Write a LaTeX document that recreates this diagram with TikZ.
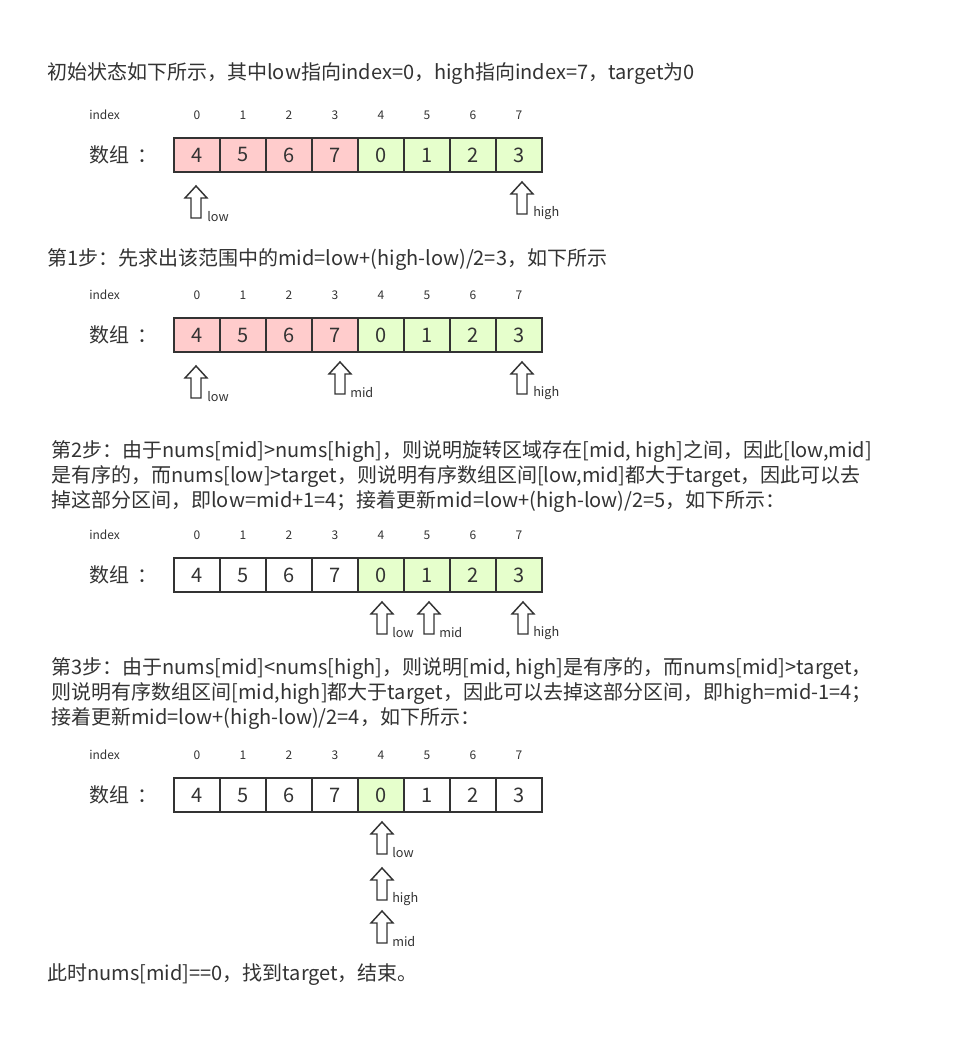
\documentclass[tikz,border=0pt]{standalone}
\usepackage{fontspec}
\setmainfont{Noto Sans CJK SC}
\begin{document}
\begin{tikzpicture}[x=0.75pt,y=-0.75pt,
  txt/.style={anchor=west,inner sep=0pt,text=textc,font=\fontsize{15pt}{17pt}\selectfont},
  idx/.style={inner sep=0pt,text=textc,font=\fontsize{9pt}{10pt}\selectfont},
  lbl/.style={anchor=west,inner sep=0pt,text=textc,font=\fontsize{9.5pt}{10pt}\selectfont},
  cell/.style={draw=cellline,line width=1.5pt,minimum width=34.5pt,minimum height=25.5pt,inner sep=0pt,text=textc,font=\fontsize{15pt}{17pt}\selectfont},
  pk/.style={cell,fill=pinkc},
  gn/.style={cell,fill=greenc},
  wh/.style={cell,fill=white},
  uparr/.pic={\draw[draw=arrc,line width=1.1pt,fill=white,line join=miter]
     (0,0) -- (11,12) -- (5,12) -- (5,32) -- (-5,32) -- (-5,12) -- (-11,12) -- cycle;}
]
\definecolor{textc}{HTML}{333333}
\definecolor{cellline}{HTML}{333333}
\definecolor{arrc}{HTML}{333333}
\definecolor{pinkc}{HTML}{FFCCCC}
\definecolor{greenc}{HTML}{E6FFCC}
\useasboundingbox (0,0) rectangle (960,1059);
\fill[white] (0,0) rectangle (960,1059);

% ---------- Texts ----------
\node[txt] (t0) at (47,74) {初始状态如下所示，其中low指向index=0，high指向index=7，target为0};
\node[txt] (t1) at (47,260) {第1步：先求出该范围中的mid=low+(high-low)/2=3，如下所示};
\node[txt] (t2a) at (51,452) {第2步：由于nums[mid]>nums[high]，则说明旋转区域存在[mid, high]之间，因此[low,mid]};
\node[txt] (t2b) at (51,477) {是有序的，而nums[low]>target，则说明有序数组区间[low,mid]都大于target，因此可以去};
\node[txt] (t2c) at (51,502) {掉这部分区间，即low=mid+1=4；接着更新mid=low+(high-low)/2=5，如下所示：};
\node[txt] (t3a) at (51,669) {第3步：由于nums[mid]<nums[high]，则说明[mid, high]是有序的，而nums[mid]>target，};
\node[txt] (t3b) at (51,694) {则说明有序数组区间[mid,high]都大于target，因此可以去掉这部分区间，即high=mid-1=4；};
\node[txt] (t3c) at (51,719) {接着更新mid=low+(high-low)/2=4，如下所示：};
\node[txt] (t4) at (47,975) {此时nums[mid]==0，找到target，结束。};

% ---------- Array labels and indices ----------
\foreach \ay/\iy [count=\k] in {155/115,335/295,575/535,795/755}{
  \node[idx,anchor=west] (ix\k) at (89,\iy) {index};
  \node[txt] (arr\k) at (89,\ay) {数组\hspace{6pt}：};
  \foreach \i in {0,...,7}{
    \pgfmathsetmacro{\cx}{197+46*\i}
    \node[idx] (n\k-\i) at (\cx,\iy) {\i};
  }
}
% ---------- Cells ----------
\foreach \v/\st [count=\i from 0] in {4/pk,5/pk,6/pk,7/pk,0/gn,1/gn,2/gn,3/gn}{
  \pgfmathsetmacro{\cx}{197+46*\i}
  \node[\st] (c1-\i) at (\cx,155) {\v};
  \node[\st] (c2-\i) at (\cx,335) {\v};
}
\foreach \v/\st [count=\i from 0] in {4/wh,5/wh,6/wh,7/wh,0/gn,1/gn,2/gn,3/gn}{
  \pgfmathsetmacro{\cx}{197+46*\i}
  \node[\st] (c3-\i) at (\cx,575) {\v};
}
\foreach \v/\st [count=\i from 0] in {4/wh,5/wh,6/wh,7/wh,0/gn,1/wh,2/wh,3/wh}{
  \pgfmathsetmacro{\cx}{197+46*\i}
  \node[\st] (c4-\i) at (\cx,795) {\v};
}

% ---------- Pointers ----------
% array 1
\pic at (196,186) {uparr};  \node[lbl] (l1low) at (207,217) {low};
\pic at (522,182) {uparr};  \node[lbl] (l1high) at (533,213) {high};
% array 2
\pic at (196,366) {uparr};  \node[lbl] (l2low) at (207,397) {low};
\pic at (340,362) {uparr};  \node[lbl] (l2mid) at (350,393) {mid};
\pic at (522,362) {uparr};  \node[lbl] (l2high) at (533,393) {high};
% array 3
\pic at (382,602) {uparr};  \node[lbl] (l3low) at (392,633) {low};
\pic at (429,602) {uparr};  \node[lbl] (l3mid) at (439,633) {mid};
\pic at (523,602) {uparr};  \node[lbl] (l3high) at (533,633) {high};
% array 4
\pic at (382,822) {uparr};  \node[lbl] (l4low) at (392,853) {low};
\pic at (382,868) {uparr};  \node[lbl] (l4high) at (392,899) {high};
\pic at (382,911) {uparr};  \node[lbl] (l4mid) at (392,942) {mid};
\end{tikzpicture}
\end{document}
